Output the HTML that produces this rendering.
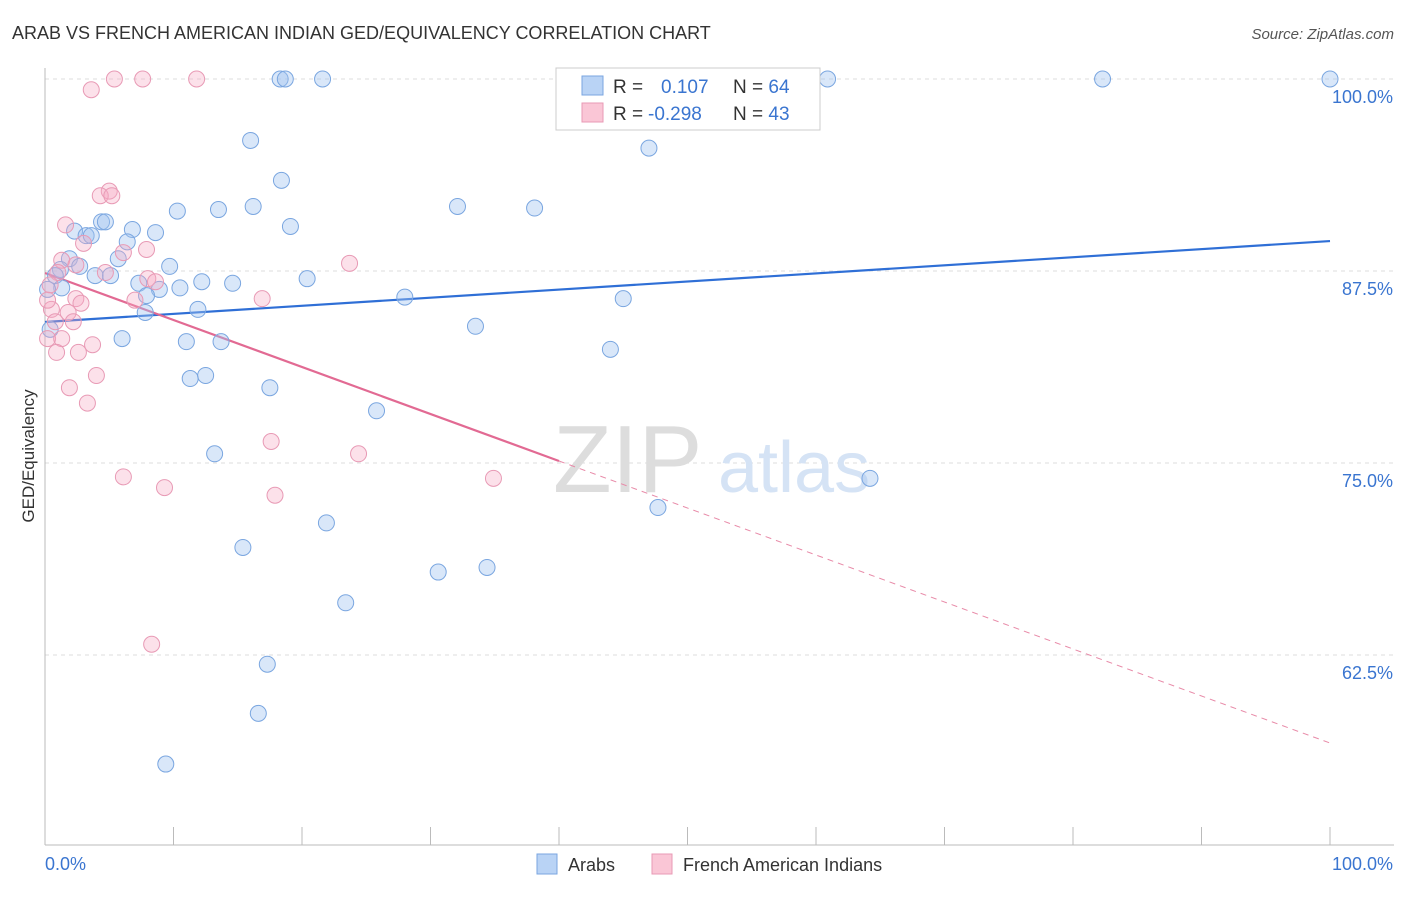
<!DOCTYPE html>
<html><head><meta charset="utf-8"><style>
body{margin:0;background:#fff;font-family:"Liberation Sans",sans-serif;}
svg text{font-family:"Liberation Sans",sans-serif;}
</style></head><body>
<svg id="chart" width="1406" height="892" xmlns="http://www.w3.org/2000/svg">
<text x="12" y="39" font-size="18" fill="#333">ARAB VS FRENCH AMERICAN INDIAN GED/EQUIVALENCY CORRELATION CHART</text>
<text x="1394" y="39" font-size="15" fill="#555" text-anchor="end" font-style="italic">Source: ZipAtlas.com</text>
<text x="0" y="0" transform="translate(34,456) rotate(-90)" font-size="17" fill="#333" text-anchor="middle">GED/Equivalency</text>
<g id="grid"></g>
<g id="axes"></g>
<text x="553" y="492" font-size="96" fill="#ddd" font-family="Liberation Serif">ZIP</text>
<text x="718" y="492" font-size="72" fill="#d5e3f5">atlas</text>
<g id="lines"></g>
<g id="pts"></g>
<g>
<rect x="556" y="68" width="264" height="62" fill="#fff" stroke="#ccc"/>
<rect x="582" y="76" width="21" height="19" fill="#b9d3f5" stroke="#7aa6e0"/>
<rect x="582" y="103" width="21" height="19" fill="#fac6d6" stroke="#e89ab5"/>
<text x="613" y="93" font-size="19" fill="#333">R = <tspan fill="#3a75d0" x="661">0.107</tspan><tspan x="733" fill="#333">N = </tspan><tspan fill="#3a75d0">64</tspan></text>
<text x="613" y="120" font-size="19" fill="#333">R = <tspan fill="#3a75d0" x="648">-0.298</tspan><tspan x="733" fill="#333">N = </tspan><tspan fill="#3a75d0">43</tspan></text>
</g>
<g>
<rect x="537" y="854" width="20" height="20" fill="#b9d3f5" stroke="#7aa6e0"/>
<text x="568" y="871" font-size="18" fill="#333">Arabs</text>
<rect x="652" y="854" width="20" height="20" fill="#fac6d6" stroke="#e89ab5"/>
<text x="683" y="871" font-size="18" fill="#333">French American Indians</text>
</g>
</svg>
<script>
const blueX=[18.3,18.7,21.6,60.9,82.3,100,16.0,47.0,18.4,10.3,13.5,16.2,19.1,32.1,38.1,4.4,4.7,2.3,3.2,3.6,6.8,8.6,6.4,5.7,1.9,2.7,9.7,1.2,0.8,3.9,5.1,20.4,12.2,14.6,7.3,10.5,8.9,1.3,7.9,28.0,45.0,11.9,7.8,33.5,6.0,11.0,13.7,44.0,11.3,12.5,17.5,25.8,13.2,64.2,47.7,21.9,15.4,30.6,34.4,23.4,17.3,16.6,9.4,0.4,0.2];
const blueY=[100,100,100,100,100,100,96.0,95.5,93.4,91.4,91.5,91.7,90.4,91.7,91.6,90.7,90.7,90.1,89.8,89.8,90.2,90.0,89.4,88.3,88.3,87.8,87.8,87.6,87.2,87.2,87.2,87.0,86.8,86.7,86.7,86.4,86.3,86.4,85.9,85.8,85.7,85.0,84.8,83.9,83.1,82.9,82.9,82.4,80.5,80.7,79.9,78.4,75.6,74.0,72.1,71.1,69.5,67.9,68.2,65.9,61.9,58.7,55.4,83.7,86.3];
const pinkX=[5.4,7.6,11.8,3.6,5.0,4.3,5.2,1.6,3.0,7.9,6.1,1.3,2.4,23.7,1.0,4.7,8.0,8.6,0.4,16.9,2.4,7.0,2.8,0.5,1.8,2.2,3.7,0.2,1.3,2.6,0.9,4.0,1.9,3.3,17.6,24.4,6.1,34.9,9.3,17.9,8.3,0.2,0.8];
const pinkY=[100,100,100,99.3,92.7,92.4,92.4,90.5,89.3,88.9,88.7,88.2,87.9,88.0,87.4,87.4,87.0,86.8,86.6,85.7,85.7,85.6,85.4,85.0,84.8,84.2,82.7,83.1,83.1,82.2,82.2,80.7,79.9,78.9,76.4,75.6,74.1,74.0,73.4,72.9,63.2,85.6,84.2];
const blueTrend=[84.18,89.45];
const pinkTrend=[87.37,56.77];
const pinkSolidEnd=40;
const yTicks=[100,87.5,75,62.5];
const yTickLabels=["100.0%","87.5%","75.0%","62.5%"];
const xTickVals=[0,10,20,30,40,50,60,70,80,90,100];
const NS="http://www.w3.org/2000/svg";
const sx=v=>45+v*12.85, sy=v=>79+(100-v)*15.36;
function mk(tag,attrs,parent){const e=document.createElementNS(NS,tag);for(const k in attrs)e.setAttribute(k,attrs[k]);document.getElementById(parent).appendChild(e);return e;}
yTicks.forEach((t,i)=>{
 const l=mk('line',{x1:45,x2:1394,y1:sy(t),y2:sy(t),stroke:'#ddd','stroke-dasharray':'4,4'},'grid');
 
 
 const tx=mk('text',{x:1393,y:sy(t)+24,'font-size':18,fill:'#3a75d0','text-anchor':'end'},'grid');
 tx.textContent=yTickLabels[i];
 
 
});
mk('line',{x1:45,x2:45,y1:68,y2:845,stroke:'#bbb'},'axes');
mk('line',{x1:45,x2:1394,y1:845,y2:845,stroke:'#bbb'},'axes');
xTickVals.forEach(t=>{const l=mk('line',{x1:sx(t),x2:sx(t),y1:827,y2:845,stroke:'#bbb'},'axes');
 
 });
let a=mk('text',{x:45,y:870,'font-size':18,fill:'#3a75d0'},'axes');a.textContent='0.0%';


let b=mk('text',{x:1393,y:870,'font-size':18,fill:'#3a75d0','text-anchor':'end'},'axes');b.textContent='100.0%';


function dot(x,y,f,s,name){const c=mk('circle',{cx:sx(x),cy:sy(y),r:8,fill:f,stroke:s,'stroke-width':1},'pts');
 
 }
blueX.forEach((x,i)=>dot(x,blueY[i],'rgba(160,195,240,0.4)','#7aa6e0','arab-point'));
pinkX.forEach((x,i)=>dot(x,pinkY[i],'rgba(245,170,195,0.35)','#e89ab5','french-american-indian-point'));
const bl=mk('line',{x1:sx(0),y1:sy(blueTrend[0]),x2:sx(100),y2:sy(blueTrend[1]),stroke:'#2f6fd6','stroke-width':2.2},'lines');


const pm=pinkTrend[0]+(pinkTrend[1]-pinkTrend[0])*pinkSolidEnd/100;
const p1=mk('line',{x1:sx(0),y1:sy(pinkTrend[0]),x2:sx(pinkSolidEnd),y2:sy(pm),stroke:'#e26a93','stroke-width':2.2},'lines');


const p2=mk('line',{x1:sx(pinkSolidEnd),y1:sy(pm),x2:sx(100),y2:sy(pinkTrend[1]),stroke:'#e88aa8','stroke-width':1,'stroke-dasharray':'6,5'},'lines');


</script>
</body></html>
